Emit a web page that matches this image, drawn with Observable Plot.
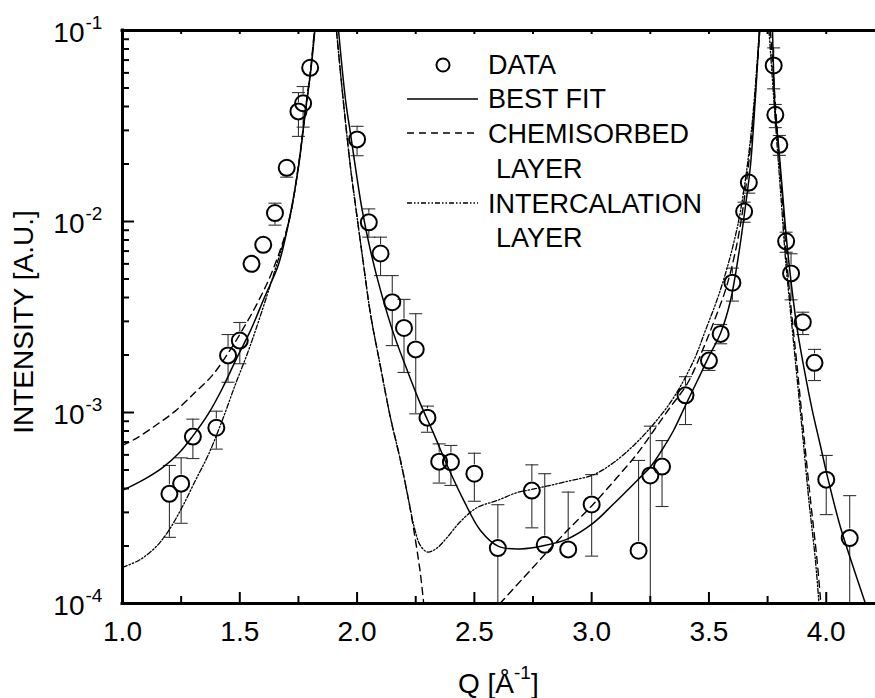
<!DOCTYPE html>
<html><head><meta charset="utf-8">
<script src="https://cdn.jsdelivr.net/npm/d3@7"></script>
<script src="https://cdn.jsdelivr.net/npm/@observablehq/plot@0.6"></script>
<style>
html,body{margin:0;padding:0;background:#fff;}
#chart{width:875px;height:698px;}
</style></head><body><div id="chart"></div>
<script>
// ---- measured data points (Q, intensity, error bar low/high; null = no lower bar) ----
const dataQ = [1.20,1.25,1.30,1.40,1.45,1.50,1.55,1.60,1.65,1.70,1.75,1.77,1.80,2.00,2.05,2.10,2.15,2.20,2.25,2.30,2.35,2.40,2.50,2.60,2.745,2.80,2.90,3.00,3.20,3.25,3.30,3.40,3.50,3.55,3.60,3.65,3.67,3.776,3.783,3.80,3.829,3.85,3.90,3.95,4.00,4.10];
const dataI = [3.75e-4,4.24e-4,7.48e-4,8.32e-4,1.99e-3,2.38e-3,6.0e-3,7.55e-3,1.107e-2,1.91e-2,3.77e-2,4.16e-2,6.38e-2,2.69e-2,9.9e-3,6.8e-3,3.78e-3,2.77e-3,2.14e-3,9.4e-4,5.53e-4,5.5e-4,4.78e-4,1.95e-4,3.9e-4,2.03e-4,1.92e-4,3.3e-4,1.89e-4,4.68e-4,5.21e-4,1.23e-3,1.87e-3,2.58e-3,4.78e-3,1.128e-2,1.60e-2,6.56e-2,3.62e-2,2.52e-2,7.88e-3,5.35e-3,2.97e-3,1.82e-3,4.45e-4,2.2e-4];
const errLow = [2.22e-4,2.63e-4,5.74e-4,6.43e-4,1.44e-3,1.80e-3,5.5e-3,6.9e-3,9.57e-3,1.706e-2,2.79e-2,3.12e-2,5.8e-2,2.21e-2,8.28e-3,5.21e-3,2.24e-3,1.62e-3,9.84e-4,7.88e-4,4.27e-4,4.15e-4,3.43e-4,5e-5,2.49e-4,null,null,1.77e-4,null,5e-5,3.22e-4,8.65e-4,1.66e-3,2.29e-3,3.83e-3,9.91e-3,1.407e-2,4.95e-2,3.10e-2,2.22e-2,6.90e-3,3.89e-3,2.56e-3,1.47e-3,2.92e-4,5e-5];
const errHigh = [5.28e-4,5.79e-4,9.23e-4,1.016e-3,2.56e-3,2.96e-3,6.5e-3,8.2e-3,1.247e-2,2.11e-2,4.73e-2,5.09e-2,7.0e-2,3.15e-2,1.164e-2,8.28e-3,5.21e-3,3.91e-3,3.29e-3,1.08e-3,6.85e-4,6.72e-4,6.12e-4,3.29e-4,5.32e-4,4.78e-4,3.83e-4,4.73e-4,5.61e-4,8.48e-4,7.13e-4,1.54e-3,2.11e-3,2.89e-3,5.70e-3,1.262e-2,1.78e-2,8.11e-2,4.10e-2,2.82e-2,8.79e-3,6.78e-3,3.35e-3,2.14e-3,5.96e-4,3.67e-4];

// ---- model curves (NaN = break where curve leaves the frame) ----
const bestFitQ = [1.000,1.098,1.171,1.239,1.298,1.367,1.426,1.489,1.546,1.605,1.666,1.716,1.750,1.780,1.804,1.820,NaN,
  1.921,1.951,1.972,1.993,2.022,2.057,2.100,2.156,2.214,2.270,2.327,2.390,2.455,2.526,2.603,2.697,2.799,2.898,3.002,3.094,3.194,3.251,3.301,3.349,3.400,3.451,3.502,3.549,3.592,3.626,3.656,3.677,3.698,3.715,NaN,
  3.771,3.783,3.796,3.813,3.830,3.852,3.877,3.907,3.941,3.975,4.009,4.061,4.116,4.167];
const bestFitI = [3.91e-4,4.51e-4,5.15e-4,6.10e-4,7.48e-4,9.89e-4,1.34e-3,1.95e-3,2.69e-3,4.00e-3,6.01e-3,1.104e-2,1.92e-2,3.77e-2,6.38e-2,1e-1,NaN,
  1e-1,4.31e-2,2.88e-2,1.92e-2,1.143e-2,7.05e-3,4.36e-3,2.58e-3,1.66e-3,1.11e-3,7.73e-4,5.09e-4,3.46e-4,2.41e-4,1.99e-4,1.93e-4,2.01e-4,2.18e-4,2.61e-4,3.33e-4,4.41e-4,5.2e-4,6.4e-4,8.05e-4,1.09e-3,1.47e-3,1.99e-3,2.59e-3,3.86e-3,6.64e-3,1.213e-2,1.963e-2,4.46e-2,1e-1,NaN,
  1e-1,3.67e-2,2.56e-2,1.45e-2,8.24e-3,4.62e-3,2.69e-3,1.66e-3,1.02e-3,6.72e-4,4.41e-4,2.50e-4,1.54e-4,1.0e-4];
const chemQ = [1.000,1.055,1.141,1.226,1.311,1.382,1.453,1.510,1.574,1.639,1.709,1.750,1.780,1.802,1.818,NaN,
  1.912,1.941,1.972,2.000,2.029,2.057,2.100,2.142,2.185,2.220,2.249,2.270,2.284,NaN,
  2.609,2.711,2.803,2.896,3.002,3.109,3.194,3.265,3.336,3.407,3.472,3.523,3.570,3.609,3.643,3.684,3.717,NaN,
  3.762,3.791,3.812,3.833,3.847,3.876,3.904,3.933,3.961,3.977];
const chemI = [6.72e-4,7.28e-4,8.55e-4,1.02e-3,1.28e-3,1.56e-3,2.07e-3,2.69e-3,3.72e-3,5.5e-3,1.0e-2,1.97e-2,3.9e-2,6.3e-2,1e-1,NaN,
  1e-1,4.31e-2,1.92e-2,1.054e-2,5.77e-3,3.29e-3,1.73e-3,9.44e-4,5.61e-4,3.46e-4,2.14e-4,1.43e-4,1.0e-4,NaN,
  1.0e-4,1.37e-4,1.82e-4,2.41e-4,3.26e-4,4.58e-4,6.08e-4,8.05e-4,1.07e-3,1.41e-3,2.11e-3,3.03e-3,4.36e-3,6.64e-3,1.127e-2,2.99e-2,1e-1,NaN,
  1e-1,2.99e-2,1.34e-2,6.0e-3,3.86e-3,1.73e-3,7.73e-4,3.46e-4,1.68e-4,1.0e-4];
const interQ = [1.000,1.069,1.141,1.197,1.254,1.311,1.368,1.425,1.482,1.532,1.567,1.639,1.709,1.750,1.780,1.803,1.818,NaN,
  1.912,1.941,1.972,2.000,2.029,2.057,2.100,2.142,2.185,2.220,2.245,2.270,2.300,2.338,2.384,2.441,2.512,2.597,2.682,2.743,2.896,3.009,3.094,3.179,3.265,3.350,3.435,3.485,3.541,3.592,3.634,3.681,3.715,NaN,
  3.756,3.786,3.807,3.828,3.843,3.871,3.899,3.926,3.954,3.969];
const interI = [1.55e-4,1.68e-4,1.97e-4,2.41e-4,3.19e-4,4.41e-4,6.08e-4,9.08e-4,1.41e-3,2.03e-3,2.69e-3,5.04e-3,9.89e-3,1.94e-2,3.81e-2,6.25e-2,1e-1,NaN,
  1e-1,4.31e-2,1.92e-2,1.054e-2,5.77e-3,3.29e-3,1.73e-3,9.44e-4,5.61e-4,3.46e-4,2.47e-4,2.01e-4,1.86e-4,1.94e-4,2.22e-4,2.69e-4,3.18e-4,3.46e-4,3.81e-4,3.95e-4,4.36e-4,4.73e-4,5.47e-4,6.72e-4,8.73e-4,1.20e-3,1.87e-3,2.69e-3,4.10e-3,6.64e-3,1.127e-2,2.99e-2,1e-1,NaN,
  1e-1,2.99e-2,1.34e-2,6.0e-3,3.86e-3,1.73e-3,7.73e-4,3.46e-4,1.68e-4,1.0e-4];

// ---- axes ----
const xTickValues = [1.0,1.5,2.0,2.5,3.0,3.5,4.0];
const xTickLabels = ["1.0","1.5","2.0","2.5","3.0","3.5","4.0"];
const xMinorValues = [1.25,1.75,2.25,2.75,3.25,3.75];
const yTickValues = [1e-4,1e-3,1e-2,1e-1];
const yTickExponents = ["-4","-3","-2","-1"];
const legendLabels = ["DATA","BEST FIT","CHEMISORBED","LAYER","INTERCALATION","LAYER"];

const W = 875, H = 698, mL = 122, mR = 0, mT = 30, mB = 95;
const fw = W - mL - mR, fh = H - mT - mB;
const font = "'Liberation Sans', Arial, Helvetica, sans-serif";

const yMinorValues = [];
for (const d of [1e-4,1e-3,1e-2]) for (let k = 2; k <= 9; k++) yMinorValues.push(k * d);
const xAllTicks = [...xTickValues, ...xMinorValues];

const rows = (qs, vs) => qs.map((q, i) => ({q, v: vs[i]}));
const points = dataQ.map((q, i) => ({q, v: dataI[i], lo: errLow[i], hi: errHigh[i]}));
const GAP = 0.047; // error bar hidden inside the symbol when shorter than this (decades)
const upper = points.filter(d => Math.log10(d.hi) - Math.log10(d.v) > GAP);
const lower = points.filter(d => d.lo != null && Math.log10(d.v) - Math.log10(d.lo) > GAP);
const cap = {draw(ctx) { ctx.moveTo(-6.5, 0); ctx.lineTo(6.5, 0); }};
const ebStroke = "#333";

const chart = Plot.plot({
  width: W, height: H,
  marginLeft: mL, marginRight: mR, marginTop: mT, marginBottom: mB,
  style: {fontFamily: font, background: "white", overflow: "visible"},
  x: {domain: [1, 4.21], axis: null},
  y: {type: "log", domain: [1e-4, 1e-1], axis: null},
  marks: [
    // error bars
    Plot.ruleX(upper, {x: "q", y1: "hi", y2: "v", insetBottom: 9, stroke: ebStroke, strokeWidth: 1.1, clip: true}),
    Plot.ruleX(lower, {x: "q", y1: "v", y2: "lo", insetTop: 9, stroke: ebStroke, strokeWidth: 1.1, clip: true}),
    Plot.dot(upper, {x: "q", y: "hi", symbol: cap, fill: "none", stroke: ebStroke, strokeWidth: 1.1, clip: true}),
    Plot.dot(lower, {x: "q", y: "lo", symbol: cap, fill: "none", stroke: ebStroke, strokeWidth: 1.1, clip: true}),
    // model curves
    Plot.line(rows(chemQ, chemI), {x: "q", y: "v", curve: "catmull-rom", stroke: "black", strokeWidth: 1.4, strokeDasharray: "7,5", clip: true}),
    Plot.line(rows(interQ, interI), {x: "q", y: "v", curve: "catmull-rom", stroke: "black", strokeWidth: 1.3, strokeDasharray: "5,2,1.5,2,1.5,2", clip: true}),
    Plot.line(rows(bestFitQ, bestFitI), {x: "q", y: "v", curve: "catmull-rom", stroke: "black", strokeWidth: 1.5, clip: true}),
    // data symbols
    Plot.dot(points, {x: "q", y: "v", r: 8, fill: "none", stroke: "black", strokeWidth: 2}),
    // frame
    Plot.ruleX([1], {strokeWidth: 3, strokeLinecap: "square"}),
    Plot.ruleY([1e-4], {strokeWidth: 3, strokeLinecap: "square"}),
    Plot.ruleY([1e-1], {strokeWidth: 3, strokeLinecap: "square"}),
    // inward ticks
    Plot.ruleX(xTickValues, {x: d => d, insetTop: fh - 11, strokeWidth: 2}),
    Plot.ruleX(xMinorValues, {x: d => d, insetTop: fh - 7, strokeWidth: 2}),
    Plot.ruleX(xAllTicks, {x: d => d, insetBottom: fh - 4, strokeWidth: 2}),
    Plot.ruleY(yTickValues, {y: d => d, insetRight: fw - 12, strokeWidth: 2}),
    Plot.ruleY(yMinorValues, {y: d => d, insetRight: fw - 7, strokeWidth: 2}),
    // tick labels
    Plot.text(xTickValues, {x: d => d, frameAnchor: "bottom", dy: 37, lineAnchor: "bottom",
      text: (d, i) => xTickLabels[i], fontSize: 28, fill: "black"}),
    Plot.text(yTickValues, {y: d => d, frameAnchor: "left", dx: -38, dy: 3, lineAnchor: "middle", textAnchor: "end",
      text: () => "10", fontSize: 28, fill: "black"}),
    Plot.text(yTickValues, {y: d => d, frameAnchor: "left", dx: -37, dy: -8, lineAnchor: "middle", textAnchor: "start",
      text: (d, i) => yTickExponents[i], fontSize: 19, fill: "black"})
  ]
});

const svg = d3.select(chart);
// axis titles
svg.append("text")
  .attr("transform", "translate(33,322) rotate(-90)")
  .attr("text-anchor", "middle").attr("font-size", 28).attr("font-family", font)
  .attr("fill", "black").text("INTENSITY [A.U.]");
const xl = svg.append("text").attr("x", 458).attr("y", 693).attr("text-anchor", "start")
  .attr("font-size", 28).attr("font-family", font).attr("fill", "black");
xl.append("tspan").text("Q [Å");
xl.append("tspan").attr("font-size", 19).attr("dy", -14).text("-1");
xl.append("tspan").attr("dy", 14).text("]");

// legend
const lg = svg.append("g").attr("font-family", font).attr("font-size", 27)
  .attr("fill", "black").attr("text-anchor", "start");
lg.append("circle").attr("cx", 443).attr("cy", 65).attr("r", 6.5)
  .attr("fill", "none").attr("stroke", "black").attr("stroke-width", 2);
const lineStyles = [null, "none", "7,5", null, "5,2,1.5,2,1.5,2", null];
const lineY = [null, 99, 133, null, 203, null];
const textX = [488, 488, 488, 496, 488, 496];
const textY = [74, 108, 143, 178, 213, 247];
legendLabels.forEach((t, i) => {
  if (lineY[i] != null) {
    lg.append("line").attr("x1", 407).attr("x2", 478).attr("y1", lineY[i]).attr("y2", lineY[i])
      .attr("stroke", "black").attr("stroke-width", i === 4 ? 1.3 : 1.5)
      .attr("stroke-dasharray", lineStyles[i] === "none" ? null : lineStyles[i]);
  }
  lg.append("text").attr("x", textX[i]).attr("y", textY[i]).attr("text-anchor", "start").text(t);
});

document.getElementById("chart").appendChild(chart);
</script></body></html>
